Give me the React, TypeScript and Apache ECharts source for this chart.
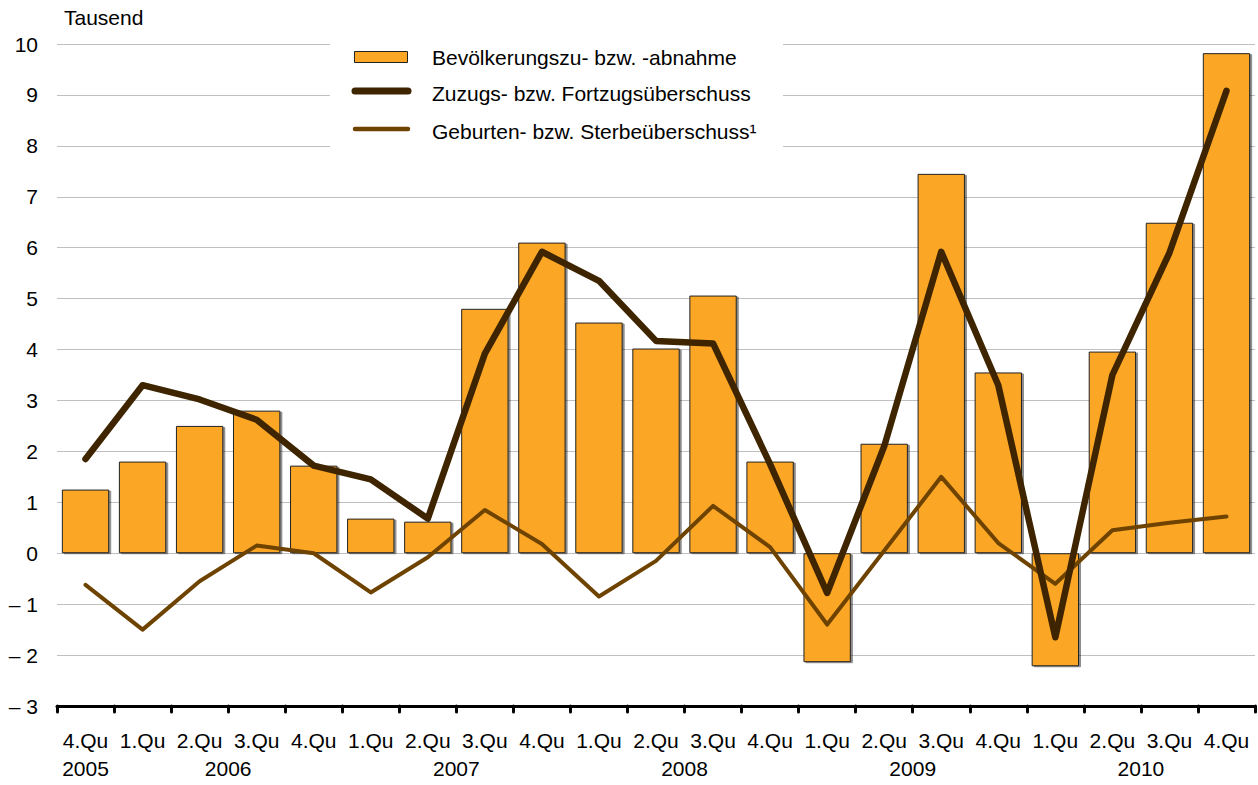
import React, { useEffect, useRef } from "react";
import * as echarts from "echarts";

const quarters = ["4.Qu", "1.Qu", "2.Qu", "3.Qu", "4.Qu", "1.Qu", "2.Qu", "3.Qu", "4.Qu", "1.Qu", "2.Qu", "3.Qu", "4.Qu", "1.Qu", "2.Qu", "3.Qu", "4.Qu", "1.Qu", "2.Qu", "3.Qu", "4.Qu"];
const yearLabels: Record<string, string> = { "0": "2005", "2.5": "2006", "6.5": "2007", "10.5": "2008", "14.5": "2009", "18.5": "2010" };
const populationChange = [1.25, 1.8, 2.5, 2.8, 1.72, 0.68, 0.62, 4.8, 6.1, 4.53, 4.02, 5.06, 1.8, -2.14, 2.15, 7.45, 3.55, -2.22, 3.96, 6.49, 9.82];
const migration = [1.85, 3.3, 3.02, 2.62, 1.72, 1.45, 0.68, 3.92, 5.92, 5.35, 4.17, 4.12, 1.75, -0.78, 2.1, 5.92, 3.3, -1.65, 3.5, 5.9, 9.08];
const natural = [-0.62, -1.5, -0.55, 0.15, 0.0, -0.77, -0.08, 0.85, 0.18, -0.85, -0.15, 0.93, 0.12, -1.4, 0.05, 1.5, 0.2, -0.6, 0.45, 0.6, 0.72];
const seriesNames = ["Bevölkerungszu- bzw. -abnahme", "Zuzugs- bzw. Fortzugsüberschuss", "Geburten- bzw. Sterbeüberschuss¹"];

const FONT = "Liberation Sans, Arial, sans-serif";
const FS = 21;
const BAR_COLOR = "#FCA625";
const DARK = "#3E2500";
const BROWN = "#6E4300";

export default function App() {
  const ref = useRef<HTMLDivElement>(null);
  useEffect(() => {
    if (!ref.current) return;
    const chart = echarts.init(ref.current, null, { renderer: "svg" });
    chart.setOption({
      animation: false,
      textStyle: { fontFamily: FONT },
      grid: { left: 57, right: 3, top: 44, bottom: 79 },
      graphic: [
        { type: "text", left: 64, top: 7, style: { text: "Tausend", font: `${FS}px ${FONT}`, fill: "#000" } },
        { type: "rect", z: 100, shape: { x: 330, y: 34, width: 453, height: 118 }, style: { fill: "#fff" } },
        { type: "rect", z: 101, shape: { x: 354.5, y: 51.5, width: 53, height: 11 }, style: { fill: BAR_COLOR, stroke: "#222", lineWidth: 1 } },
        { type: "line", z: 101, shape: { x1: 355, y1: 91, x2: 408, y2: 91 }, style: { stroke: DARK, lineWidth: 7, lineCap: "round" } },
        { type: "line", z: 101, shape: { x1: 355, y1: 129, x2: 408, y2: 129 }, style: { stroke: BROWN, lineWidth: 4.5, lineCap: "round" } },
        { type: "text", z: 101, x: 432, y: 57, style: { text: seriesNames[0], font: `${FS}px ${FONT}`, fill: "#000", verticalAlign: "middle" } },
        { type: "text", z: 101, x: 432, y: 93, style: { text: seriesNames[1], font: `${FS}px ${FONT}`, fill: "#000", verticalAlign: "middle" } },
        { type: "text", z: 101, x: 432, y: 131, style: { text: seriesNames[2], font: `${FS}px ${FONT}`, fill: "#000", verticalAlign: "middle" } },
      ],
      xAxis: [
        {
          type: "category",
          data: quarters,
          position: "bottom",
          axisLine: { onZero: false, lineStyle: { color: "#000", width: 3 } },
          axisTick: { show: true, interval: 0, alignWithLabel: false, length: 6, lineStyle: { color: "#000", width: 3, cap: "round" } },
          axisLabel: { color: "#000", fontSize: FS, margin: 24, fontFamily: FONT, interval: 0 },
          splitLine: { show: false },
        },
        {
          type: "value",
          position: "bottom",
          offset: 28,
          min: -0.5,
          max: 20.5,
          interval: 0.5,
          axisLine: { show: false },
          axisTick: { show: false },
          splitLine: { show: false },
          axisLabel: {
            color: "#000",
            fontSize: FS,
            margin: 24,
            fontFamily: FONT,
            showMinLabel: true,
            showMaxLabel: true,
            formatter: (v: number) => yearLabels[String(v)] || "",
          },
        },
      ],
      yAxis: {
        type: "value",
        min: -3,
        max: 10,
        interval: 1,
        axisLine: { show: false },
        axisTick: { show: false },
        axisLabel: {
          color: "#000",
          fontSize: FS,
          margin: 19,
          fontFamily: FONT,
          formatter: (v: number) => (v < 0 ? "– " + Math.abs(v) : String(v)),
        },
        splitLine: { lineStyle: { color: "#c0c0c0", width: 1 } },
      },
      series: [
        {
          name: seriesNames[0],
          type: "bar",
          data: populationChange,
          barCategoryGap: "17%",
          itemStyle: {
            color: BAR_COLOR,
            borderColor: "#222",
            borderWidth: 1,
            shadowColor: "rgba(0,0,0,0.45)",
            shadowOffsetX: 2,
            shadowOffsetY: 1,
            shadowBlur: 1,
          },
          z: 2,
        },
        {
          name: seriesNames[1],
          type: "line",
          data: migration,
          symbol: "none",
          itemStyle: { color: DARK },
          lineStyle: { color: DARK, width: 6.5, cap: "round", join: "round" },
          z: 4,
        },
        {
          name: seriesNames[2],
          type: "line",
          data: natural,
          symbol: "none",
          itemStyle: { color: BROWN },
          lineStyle: { color: BROWN, width: 4, cap: "round", join: "round" },
          z: 3,
        },
      ],
    });
    return () => chart.dispose();
  }, []);
  return <div ref={ref} style={{ position: "absolute", left: 0, top: 0, width: 1258, height: 785 }} />;
}
